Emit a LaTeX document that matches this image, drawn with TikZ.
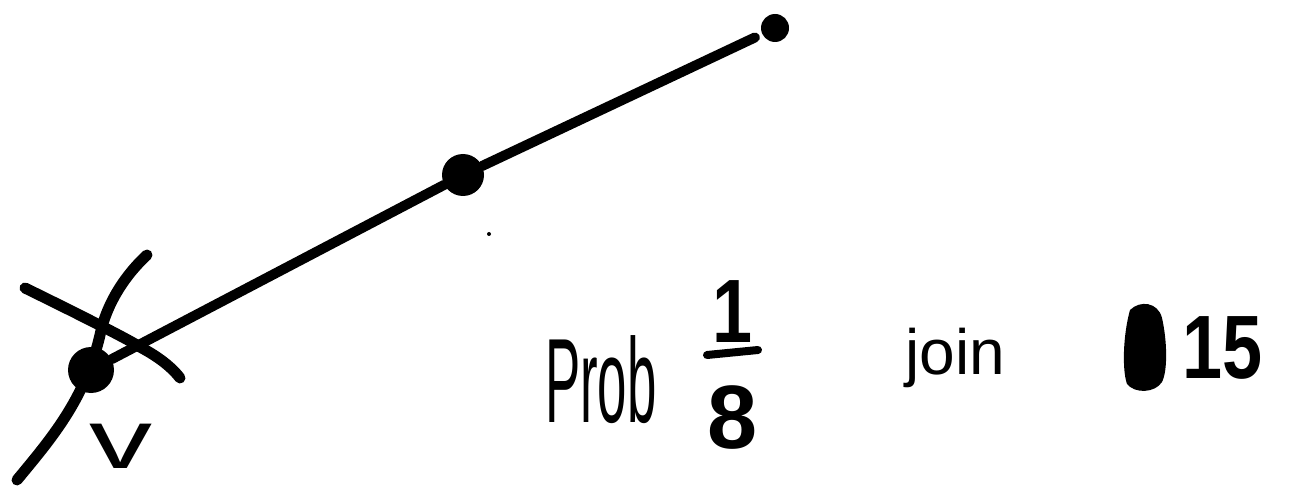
\documentclass[tikz,border=0pt]{standalone}
\usepackage{fontspec}
\setmainfont{Liberation Sans}
\begin{document}
\begin{tikzpicture}[x=1pt,y=-1pt,line cap=round,line join=round,
  vertex/.style={circle,fill=black,inner sep=0pt,minimum size=#1},
  pen/.style={line width=10pt},
  thinpen/.style={line width=11pt},
  hand/.style={inner sep=0pt,transform shape}]
\useasboundingbox (0,0) rectangle (1296,489);
% vertices
\node[vertex=46pt] (v) at (91,370) {};
\node[vertex=42pt] (mid) at (463,175) {};
\node[vertex=28pt] (top) at (775,28) {};
\node[vertex=4pt] (speck) at (489,234) {};
% path
\draw[pen] (v) -- (mid);
\draw[pen,shorten >=8pt] (mid) -- (top);
% crossing strokes at v
\draw[thinpen] (25,288) .. controls (70,310) and (130,340) .. (140,347) .. controls (155,355) and (170,365) .. (180,378);
\draw[thinpen] (147,255) .. controls (120,280) and (105,310) .. (100,335) .. controls (85,400) and (50,440) .. (17,480);
% v label
\node[hand,xscale=1.5,anchor=center] (vlab) at (121,446) {\fontsize{84}{84}\selectfont v};
% text
\node[hand,xscale=0.44,anchor=base west] (prob) at (545,422) {\fontsize{120}{120}\selectfont Prob};
\node[hand,xscale=0.8,anchor=center] (numer) at (733,312) {\fontsize{90}{90}\selectfont\bfseries 1};
\node[hand,anchor=center] (denom) at (733,418) {\fontsize{90}{90}\selectfont\bfseries 8};
\coordinate (barl) at (707,355);
\coordinate (barr) at (758,350);
\draw[line width=8pt] (barl) -- (barr);
\node[hand,anchor=base west] (join) at (905,374) {\fontsize{64}{64}\selectfont join};
\fill (1130,310) .. controls (1140,300) and (1158,302) .. (1162,318) .. controls (1167,340) and (1168,370) .. (1162,382) .. controls (1155,393) and (1135,394) .. (1127,384) .. controls (1122,370) and (1123,335) .. (1130,310) -- cycle;
\node[hand,xscale=0.8,anchor=base west] (num) at (1182,378) {\fontsize{90}{90}\selectfont\bfseries 15};
\end{tikzpicture}
\end{document}
